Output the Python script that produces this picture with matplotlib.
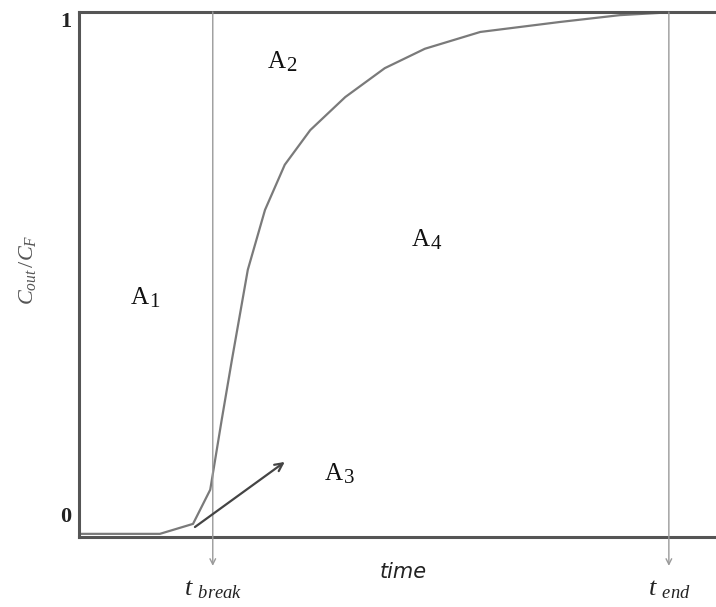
import numpy as np
import matplotlib.pyplot as plt

# breakthrough curve (time in arbitrary units 0-100)
time = [0, 12.7, 17.9, 20.6, 22.4, 24.0, 26.5, 29.2, 32.3, 36.3, 41.8, 48.0,
        54.3, 63.0, 75.5, 84.9, 93.6]
c_ratio = [0.006, 0.006, 0.025, 0.09, 0.223, 0.337, 0.509, 0.623, 0.709, 0.775,
           0.838, 0.893, 0.93, 0.962, 0.981, 0.994, 1.0]

t_break = 21.0
t_end = 92.6

area_labels = ['A', 'A', 'A', 'A']
area_subs = ['1', '2', '3', '4']
area_pos = [(9.5, 0.455), (31.0, 0.905), (40.0, 0.12), (53.7, 0.565)]

plt.rcParams['mathtext.fontset'] = 'custom'
plt.rcParams['mathtext.rm'] = 'Liberation Serif'
plt.rcParams['mathtext.it'] = 'Liberation Serif:italic'

fig = plt.figure(figsize=(7.16, 6.07), dpi=100)
ax = fig.add_axes([79/716, 1 - 537/607, 1 - 79/716, (537 - 12)/607])
ax.set_xlim(0, 100)
ax.set_ylim(0, 1)

spine_col = '#555555'
for s in ['left', 'top', 'bottom']:
    ax.spines[s].set_color(spine_col)
    ax.spines[s].set_linewidth(2.2)
ax.spines['right'].set_visible(False)
ax.set_xticks([])
ax.set_yticks([])

ax.plot(time, c_ratio, color='#7a7a7a', lw=1.6, solid_joinstyle='miter')

# vertical guide lines ending in arrows below the axis
for t in [t_break, t_end]:
    ax.annotate('', xy=(t, -0.055), xytext=(t, 1.0), xycoords='data',
                annotation_clip=False,
                arrowprops=dict(arrowstyle='->', color='#9a9a9a', lw=1.0,
                                shrinkA=0, shrinkB=0, mutation_scale=10))

# arrow pointing to A3
ax.annotate('', xy=(32.3, 0.143), xytext=(18.2, 0.019),
            arrowprops=dict(arrowstyle='->', color='#444444', lw=1.6,
                            shrinkA=0, shrinkB=0, mutation_scale=14))

# area labels: big A with a slightly lowered digit
for lab, sub, (x, y) in zip(area_labels, area_subs, area_pos):
    ax.text(x, y, lab, fontsize=18, family='Liberation Serif',
            ha='center', va='center', color='#111111')
    ax.text(x + 1.55, y - 0.008, sub, fontsize=15, family='Liberation Serif',
            ha='left', va='center', color='#111111')

# axis values
fig.text(66/716, 1 - 22/607, '1', fontsize=16, family='Liberation Serif',
         weight='bold', ha='center', va='center', color='#222222')
fig.text(66/716, 1 - 517/607, '0', fontsize=16, family='Liberation Serif',
         weight='bold', ha='center', va='center', color='#222222')

fig.text(403/716, 1 - 572/607, 'time', fontsize=15, style='italic',
         family='DejaVu Sans', ha='center', va='center', color='#222222')
fig.text(213/716, 1 - 588/607, r'$t\ _{break}$', fontsize=19,
         ha='center', va='center', color='#222222')
fig.text(669/716, 1 - 588/607, r'$t\ _{end}$', fontsize=19,
         ha='center', va='center', color='#222222')

fig.text(27/716, 1 - 270/607, r'$C_{out}\,/C_{F}$', fontsize=16, rotation=90,
         ha='center', va='center', color='#555555')

fig.savefig('out.png', dpi=100)
